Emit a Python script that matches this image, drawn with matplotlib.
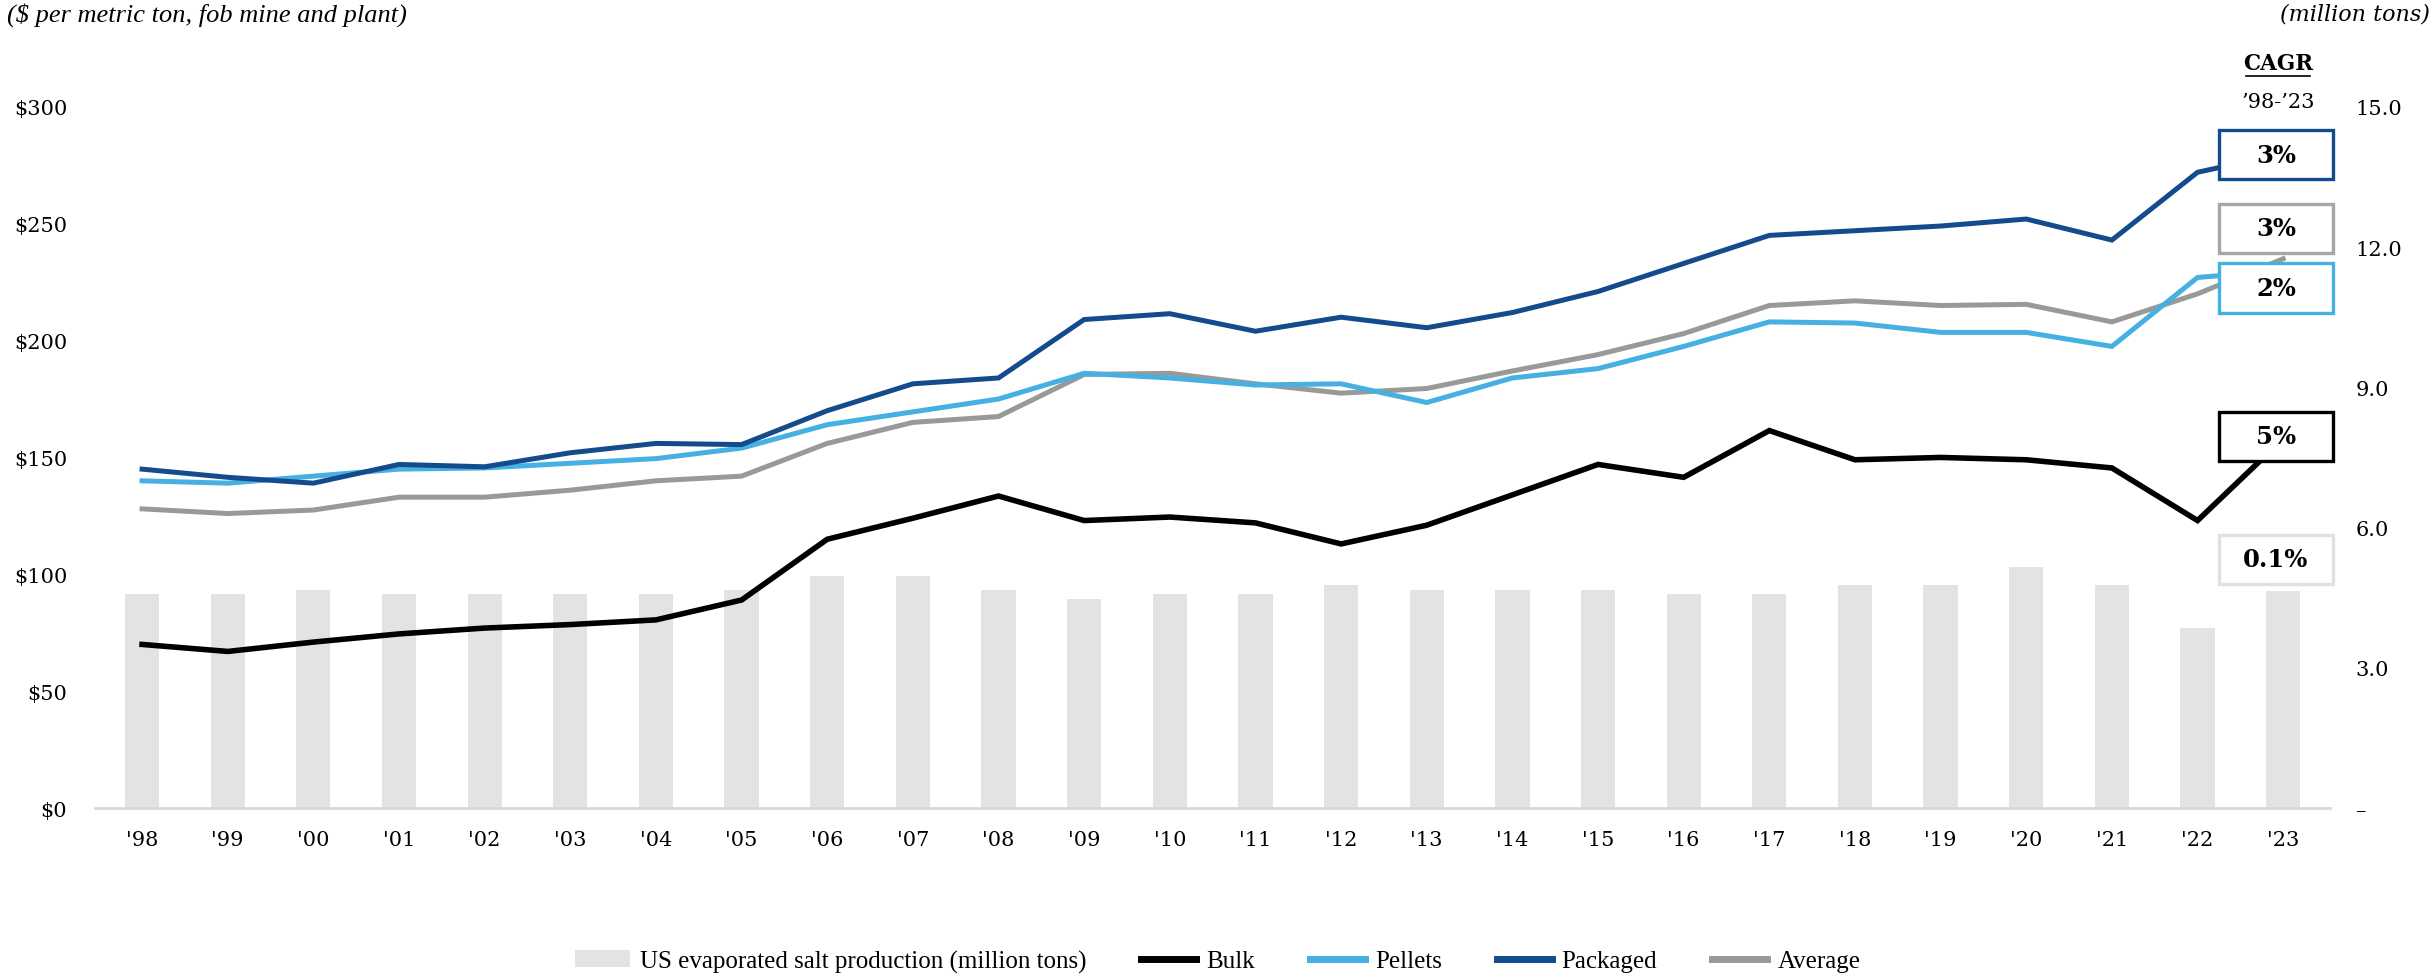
import matplotlib
matplotlib.use("Agg")
import matplotlib.pyplot as plt
from matplotlib.patches import Patch, Rectangle
from matplotlib.lines import Line2D

# --- data ---
years = ["'98", "'99", "'00", "'01", "'02", "'03", "'04", "'05", "'06", "'07", "'08", "'09", "'10",
         "'11", "'12", "'13", "'14", "'15", "'16", "'17", "'18", "'19", "'20", "'21", "'22", "'23"]

production = [4.57, 4.57, 4.67, 4.57, 4.57, 4.57, 4.57, 4.67, 4.97, 4.97, 4.67, 4.47, 4.57,
              4.57, 4.77, 4.67, 4.67, 4.67, 4.57, 4.57, 4.77, 4.77, 5.15, 4.77, 3.85, 4.65]

bulk = [70, 67, 71, 74.5, 77, 78.5, 80.5, 89, 115, 124, 133.5, 123, 124.5,
        122, 113, 121, 134, 147, 141.5, 161.5, 149, 150, 149, 145.5, 123, 158]
pellets = [140, 139, 142, 145, 145.5, 147.5, 149.5, 154, 164, 169.5, 175, 186, 184,
           181, 181.5, 173.5, 184, 188, 197.5, 208, 207.5, 203.5, 203.5, 197.5, 227, 230]
packaged = [145, 141.5, 139, 147, 146, 152, 156, 155.5, 170, 181.5, 184, 209, 211.5,
            204, 210, 205.5, 212, 221, 233, 245, 247, 249, 252, 243, 272, 280]
average = [128, 126, 127.5, 133, 133, 136, 140, 142, 156, 165, 167.5, 185.5, 186,
           181.5, 177.5, 179.5, 187, 194, 203, 215, 217, 215, 215.5, 208, 220, 235]

cagr_labels = ["3%", "3%", "2%", "5%", "0.1%"]

# --- style ---
C_BULK = "#000000"
C_PELLETS = "#45B0E1"
C_PACKAGED = "#134B8C"
C_AVERAGE = "#999999"
C_BAR = "#E3E3E3"
NUM_FONT = "DejaVu Serif"
TXT_FONT = "Liberation Serif"

fig = plt.figure(figsize=(24.35, 9.79), dpi=100)
ax = fig.add_axes([0.039, 0.1736, 0.918, 0.764])
ax2 = ax.twinx()
ax.set_zorder(ax2.get_zorder() + 1)
ax.patch.set_visible(False)

x = list(range(len(years)))
ax2.bar(x, production, width=0.4, color=C_BAR, zorder=1)

lw = 3.6
ax.plot(x, average, color=C_AVERAGE, lw=lw, solid_joinstyle="miter", zorder=3)
ax.plot(x, pellets, color=C_PELLETS, lw=lw, solid_joinstyle="miter", zorder=3)
ax.plot(x, packaged, color=C_PACKAGED, lw=lw, solid_joinstyle="miter", zorder=3)
ax.plot(x, bulk, color=C_BULK, lw=4.0, solid_joinstyle="miter", zorder=3)

ax.set_xlim(-0.55, 25.55)
ax.set_ylim(0, 320)
ax2.set_ylim(0, 16)

ax.set_xticks(x)
ax.set_xticklabels(years, fontsize=15, fontfamily=NUM_FONT)
ax.set_yticks(range(0, 301, 50))
ax.set_yticklabels([f"${v}" for v in range(0, 301, 50)], fontsize=15, fontfamily=NUM_FONT)
ax2.set_yticks(range(0, 16, 3))
ax2.set_yticklabels(["–"] + [f"{v:.1f}" for v in range(3, 16, 3)], fontsize=15, fontfamily=NUM_FONT)

ax.tick_params(axis="x", length=0, pad=16)
ax.tick_params(axis="y", length=0, pad=20)
ax2.tick_params(axis="y", length=0, pad=18)

for a in (ax, ax2):
    for s in a.spines.values():
        s.set_visible(False)
ax.spines["bottom"].set_visible(True)
ax.spines["bottom"].set_color("#D9D9D9")
ax.spines["bottom"].set_linewidth(2)

# --- CAGR boxes ---
box_centers = [279.5, 248, 222.5, 159, 106.5]
box_colors = [C_PACKAGED, "#A6A6A6", C_PELLETS, "#000000", "#E0E0E0"]
box_x0, box_w, box_h = 24.25, 1.33, 21
for lab, yc, col in zip(cagr_labels, box_centers, box_colors):
    ax.add_patch(Rectangle((box_x0, yc - box_h / 2), box_w, box_h, facecolor="white",
                           edgecolor=col, lw=2.4, zorder=5, clip_on=False))
    ax.text(box_x0 + box_w / 2, yc, lab, ha="center", va="center", fontsize=17.5,
            fontweight="bold", fontfamily=NUM_FONT, zorder=6, clip_on=False)

fig.text(0.9355, 0.935, "CAGR", ha="center", va="center", fontsize=15.5,
         fontweight="bold", fontfamily=NUM_FONT)
fig.add_artist(Line2D([0.9225, 0.9485], [0.9215, 0.9215], color="black", lw=1.2))
fig.text(0.9355, 0.895, "’98-’23", ha="center", va="center", fontsize=15, fontfamily=NUM_FONT)

# --- axis headers ---
fig.text(0.003, 0.985, "($ per metric ton, fob mine and plant)", ha="left", va="center",
         fontsize=19, fontstyle="italic", fontfamily=TXT_FONT)
fig.text(0.998, 0.985, "(million tons)", ha="right", va="center",
         fontsize=16, fontstyle="italic", fontfamily=NUM_FONT)

# --- legend ---
handles = [Patch(facecolor=C_BAR, edgecolor="none"),
           Line2D([], [], color=C_BULK, lw=5),
           Line2D([], [], color=C_PELLETS, lw=5),
           Line2D([], [], color=C_PACKAGED, lw=5),
           Line2D([], [], color=C_AVERAGE, lw=5)]
labels = ["US evaporated salt production (million tons)", "Bulk", "Pellets", "Packaged", "Average"]
fig.legend(handles, labels, loc="center", bbox_to_anchor=(0.5, 0.017), ncol=5, frameon=False,
           prop={"family": TXT_FONT, "size": 18}, handlelength=2.2, handletextpad=0.4,
           columnspacing=2.2)

fig.savefig("out.png", dpi=100)
